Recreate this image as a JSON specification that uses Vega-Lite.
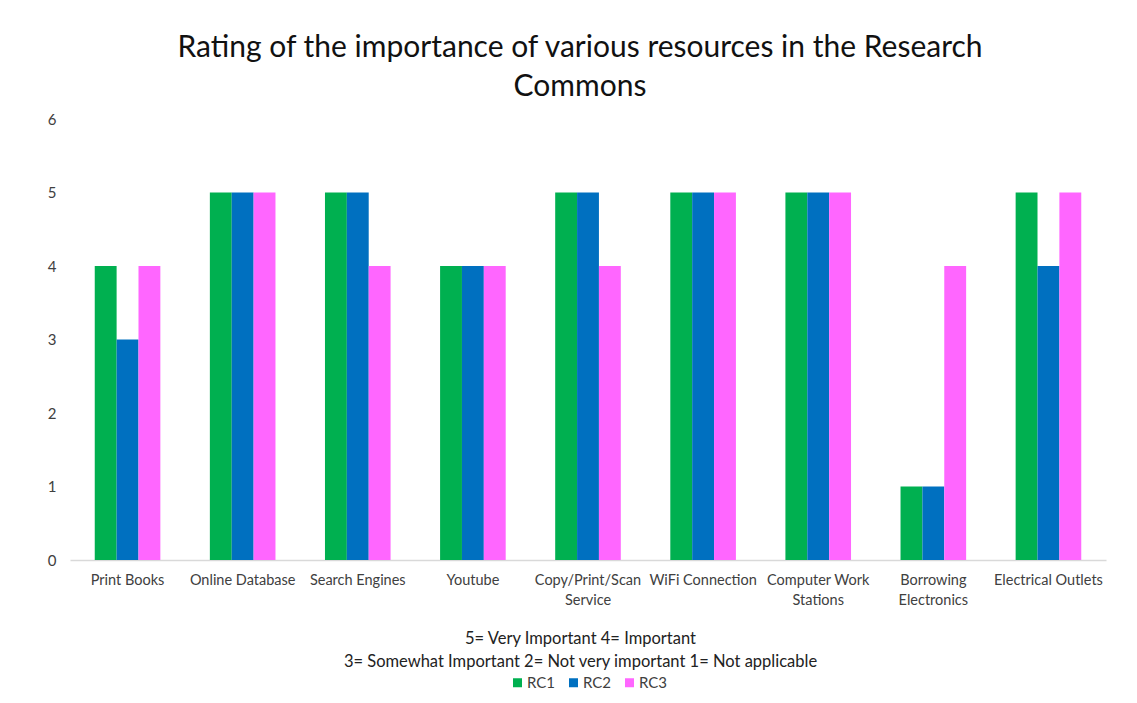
{
  "$schema": "https://vega.github.io/schema/vega-lite/v6.json",
  "autosize": {"type": "none"},
  "width": 1036,
  "height": 441,
  "padding": {"left": 70, "top": 119, "right": 31, "bottom": 143},
  "background": "white",
  "title": {
    "text": ["Rating of the importance of various resources in the Research", "Commons"],
    "font": "Lato",
    "fontSize": 30,
    "fontWeight": "normal",
    "color": "#111111",
    "lineHeight": 39,
    "anchor": "middle",
    "dx": -8,
    "offset": 10
  },
  "data": {
    "values": [
      {"resource": "Print Books", "series": "RC1", "rating": 4},
      {"resource": "Print Books", "series": "RC2", "rating": 3},
      {"resource": "Print Books", "series": "RC3", "rating": 4},
      {"resource": "Online Database", "series": "RC1", "rating": 5},
      {"resource": "Online Database", "series": "RC2", "rating": 5},
      {"resource": "Online Database", "series": "RC3", "rating": 5},
      {"resource": "Search Engines", "series": "RC1", "rating": 5},
      {"resource": "Search Engines", "series": "RC2", "rating": 5},
      {"resource": "Search Engines", "series": "RC3", "rating": 4},
      {"resource": "Youtube", "series": "RC1", "rating": 4},
      {"resource": "Youtube", "series": "RC2", "rating": 4},
      {"resource": "Youtube", "series": "RC3", "rating": 4},
      {"resource": "Copy/Print/Scan Service", "series": "RC1", "rating": 5},
      {"resource": "Copy/Print/Scan Service", "series": "RC2", "rating": 5},
      {"resource": "Copy/Print/Scan Service", "series": "RC3", "rating": 4},
      {"resource": "WiFi Connection", "series": "RC1", "rating": 5},
      {"resource": "WiFi Connection", "series": "RC2", "rating": 5},
      {"resource": "WiFi Connection", "series": "RC3", "rating": 5},
      {"resource": "Computer Work Stations", "series": "RC1", "rating": 5},
      {"resource": "Computer Work Stations", "series": "RC2", "rating": 5},
      {"resource": "Computer Work Stations", "series": "RC3", "rating": 5},
      {"resource": "Borrowing Electronics", "series": "RC1", "rating": 1},
      {"resource": "Borrowing Electronics", "series": "RC2", "rating": 1},
      {"resource": "Borrowing Electronics", "series": "RC3", "rating": 4},
      {"resource": "Electrical Outlets", "series": "RC1", "rating": 5},
      {"resource": "Electrical Outlets", "series": "RC2", "rating": 4},
      {"resource": "Electrical Outlets", "series": "RC3", "rating": 5}
    ]
  },
  "mark": {"type": "bar"},
  "encoding": {
    "x": {
      "field": "resource",
      "type": "nominal",
      "sort": null,
      "scale": {"paddingInner": 0.43, "paddingOuter": 0.215},
      "axis": {
        "labelAngle": 0,
        "labelFont": "Lato",
        "labelFontSize": 14.5,
        "labelColor": "#404040",
        "labelPadding": 13,
        "labelLimit": 200,
        "labelLineHeight": 20,
        "labelExpr": "datum.label == 'Copy/Print/Scan Service' ? ['Copy/Print/Scan', 'Service'] : datum.label == 'Computer Work Stations' ? ['Computer Work', 'Stations'] : datum.label == 'Borrowing Electronics' ? ['Borrowing', 'Electronics'] : datum.label",
        "ticks": false,
        "domain": true,
        "domainColor": "#d9d9d9",
        "domainWidth": 1.5,
        "title": ["5= Very Important 4= Important", "3= Somewhat Important 2= Not very important 1= Not applicable"],
        "titleFont": "Lato",
        "titleFontSize": 16.5,
        "titleFontWeight": "normal",
        "titleColor": "#222222",
        "titleLineHeight": 23,
        "titlePadding": 24,
        "titleX": 510
      }
    },
    "xOffset": {"field": "series", "type": "nominal", "scale": {"paddingInner": 0, "paddingOuter": 0}},
    "y": {
      "field": "rating",
      "type": "quantitative",
      "scale": {"domain": [0, 6]},
      "axis": {
        "values": [0, 1, 2, 3, 4, 5, 6],
        "grid": false,
        "domain": false,
        "ticks": false,
        "labelFont": "Lato",
        "labelFontSize": 15,
        "labelColor": "#404040",
        "labelPadding": 14,
        "title": null
      }
    },
    "color": {
      "field": "series",
      "type": "nominal",
      "scale": {"domain": ["RC1", "RC2", "RC3"], "range": ["#00B050", "#0070C0", "#FF66FF"]},
      "legend": {
        "title": null,
        "orient": "none",
        "legendX": 440,
        "legendY": 556,
        "direction": "horizontal",
        "symbolType": "square",
        "symbolSize": 81,
        "symbolStrokeWidth": 0,
        "labelFont": "Lato",
        "labelFontSize": 15,
        "labelColor": "#404040",
        "labelOffset": 2,
        "columnPadding": 10
      }
    }
  },
  "config": {"view": {"stroke": null}}
}
